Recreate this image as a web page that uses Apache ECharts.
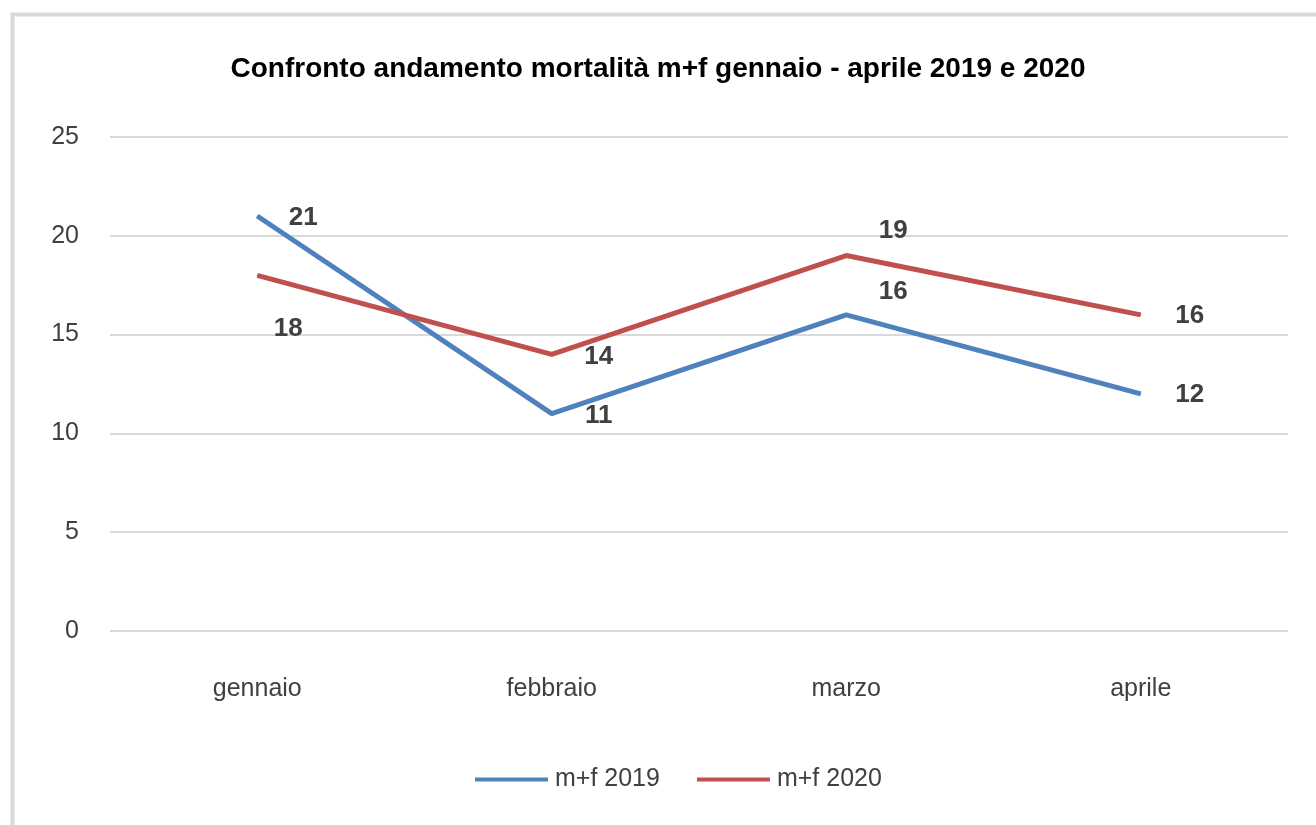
<!DOCTYPE html>
<html><head><meta charset="utf-8">
<script src="https://cdn.jsdelivr.net/npm/echarts@6/dist/echarts.min.js"></script>
<style>html,body{margin:0;padding:0;background:#fff}#c{width:1316px;height:825px}</style>
</head><body><div id="c"></div>
<script>
const titleText = 'Confronto andamento mortalità m+f gennaio - aprile 2019 e 2020';
const categories = ['gennaio', 'febbraio', 'marzo', 'aprile'];
const yTicks = [0, 5, 10, 15, 20, 25];
const seriesNames = ['m+f 2019', 'm+f 2020'];
const values2019 = [21, 11, 16, 12];
const values2020 = [18, 14, 19, 16];
// label offsets (style only)
const labelOffsets2019 = [[46, 2], [47, 2], [47, -23], [49, 1]];
const labelOffsets2020 = [[31, 54], [47, 2], [47, -25], [49, 1]];

const FONT = '"Liberation Sans", Arial, sans-serif';
const chart = echarts.init(document.getElementById('c'), null, {renderer: 'canvas'});

function mk(vals, offs) {
  return vals.map((v, i) => ({
    value: v,
    label: {offset: offs[i]}
  }));
}
const labelBase = {
  show: true, position: 'inside', align: 'center', verticalAlign: 'middle',
  color: '#404040', fontFamily: FONT, fontWeight: 'bold', fontSize: 26
};

chart.setOption({
  animation: false,
  backgroundColor: '#fff',
  graphic: [{
    type: 'rect', left: 10, top: 12, z: -1,
    shape: {width: 1400, height: 900},
    style: {fill: 'none', stroke: '#d9d9d9', lineWidth: 4}
  }],
  title: {
    text: titleText, left: 'center', top: 50,
    textStyle: {fontFamily: FONT, fontWeight: 'bold', fontSize: 28, color: '#000'}
  },
  legend: {
    data: seriesNames, bottom: 28, left: 470,
    itemWidth: 73, itemHeight: 4, itemGap: 37,
    icon: 'rect',
    textStyle: {fontFamily: FONT, fontSize: 25, color: '#404040', padding: [0, 0, 0, 2]}
  },
  grid: {left: 110, right: 28, top: 137, bottom: 194},
  xAxis: {
    type: 'category', data: categories, boundaryGap: true,
    axisLine: {show: false}, axisTick: {show: false},
    axisLabel: {fontFamily: FONT, fontSize: 25, color: '#404040', margin: 46}
  },
  yAxis: {
    type: 'value', min: 0, max: 25, interval: 5,
    axisLine: {show: false}, axisTick: {show: false},
    splitLine: {lineStyle: {color: '#d9d9d9', width: 2}},
    axisLabel: {fontFamily: FONT, fontSize: 25, color: '#404040', margin: 31,
      formatter: v => yTicks.includes(v) ? String(v) : ''}
  },
  series: [
    {
      name: seriesNames[0], type: 'line', data: mk(values2019, labelOffsets2019),
      symbol: 'circle', symbolSize: 1, showSymbol: true,
      lineStyle: {color: '#4f81bd', width: 5}, itemStyle: {color: '#4f81bd'},
      label: labelBase
    },
    {
      name: seriesNames[1], type: 'line', data: mk(values2020, labelOffsets2020),
      symbol: 'circle', symbolSize: 1, showSymbol: true,
      lineStyle: {color: '#c0504d', width: 5}, itemStyle: {color: '#c0504d'},
      label: labelBase
    }
  ]
});
</script></body></html>
